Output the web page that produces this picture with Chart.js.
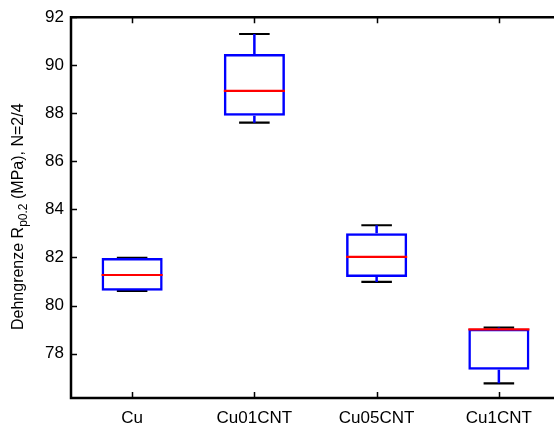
<!DOCTYPE html>
<html lang="de">
<head>
<meta charset="UTF-8">
<title>Dehngrenze Boxplot</title>
<script src="https://cdn.jsdelivr.net/npm/chart.js"></script>
<style>
  html, body { margin: 0; padding: 0; background: #fff; overflow: hidden; }
  .chart-container { position: relative; width: 560px; height: 427px; }
</style>
</head>
<body>
<div class="chart-container"><canvas id="boxChart"></canvas></div>
<script>
// Werte
const categories = ["Cu", "Cu01CNT", "Cu05CNT", "Cu1CNT"];
const whiskerLow = [80.61, 87.61, 80.98, 76.76];
const q1Values = [80.61, 87.90, 81.19, 77.33];
const medianValues = [81.27, 88.93, 82.02, 79.01];
const q3Values = [81.98, 90.47, 83.01, 79.03];
const whiskerHigh = [81.98, 91.30, 83.34, 79.08];
const yTicks = [78, 80, 82, 84, 86, 88, 90, 92];
const yTitle = ["Dehngrenze R", "p0.2", " (MPa), N=2/4"];

const FONT = "'Liberation Sans', Arial, sans-serif";

// Liniensegmente pro Kategorie, getrennt durch null
function segments(fn) {
    const pts = [];
    categories.forEach((c, i) => {
        fn(i + 1, i).forEach(seg => pts.push(seg[0], seg[1], { x: i + 1, y: null }));
    });
    return pts;
}

const medianPts = segments((x, i) => [[{ x: x - 0.25, y: medianValues[i] }, { x: x + 0.25, y: medianValues[i] }]]);
const whiskerPts = segments((x, i) => [
    [{ x: x, y: q3Values[i] }, { x: x, y: whiskerHigh[i] }],
    [{ x: x, y: whiskerLow[i] }, { x: x, y: q1Values[i] }]
]);
const capPts = segments((x, i) => [
    [{ x: x - 0.125, y: whiskerHigh[i] }, { x: x + 0.125, y: whiskerHigh[i] }],
    [{ x: x - 0.125, y: whiskerLow[i] }, { x: x + 0.125, y: whiskerLow[i] }]
]);
const boxData = categories.map((c, i) => ({ x: i + 1, y: [q1Values[i], q3Values[i]] }));

// Achsenrahmen mit Ticks nach innen (MATLAB-Stil)
const framePlugin = {
    id: 'frame',
    afterDraw(chart) {
        const { ctx, chartArea: a, scales } = chart;
        ctx.save();
        ctx.strokeStyle = '#000';
        ctx.lineWidth = 1.5;
        ctx.beginPath();
        yTicks.forEach(v => {
            const y = Math.round(scales.y.getPixelForValue(v)) + 0.5;
            ctx.moveTo(a.left, y); ctx.lineTo(a.left + 6, y);
        });
        categories.forEach((c, i) => {
            const x = Math.round(scales.x.getPixelForValue(i + 1)) + 0.5;
            ctx.moveTo(x, a.bottom); ctx.lineTo(x, a.bottom - 6);
            ctx.moveTo(x, a.top); ctx.lineTo(x, a.top + 6);
        });
        ctx.stroke();
        ctx.lineWidth = 2.5;
        ctx.beginPath();
        ctx.moveTo(a.right, a.top);
        ctx.lineTo(a.left, a.top);
        ctx.lineTo(a.left, a.bottom);
        ctx.lineTo(a.right, a.bottom);
        ctx.stroke();

        // y-Achsentitel mit Index p0.2
        ctx.fillStyle = '#000';
        ctx.textBaseline = 'alphabetic';
        ctx.translate(23, a.bottom - 68);
        ctx.rotate(-Math.PI / 2);
        ctx.font = '16px ' + FONT;
        ctx.fillText(yTitle[0], 0, 0);
        let w = ctx.measureText(yTitle[0]).width;
        ctx.font = '12px ' + FONT;
        ctx.fillText(yTitle[1], w, 4);
        w += ctx.measureText(yTitle[1]).width;
        ctx.font = '16px ' + FONT;
        ctx.fillText(yTitle[2], w, 0);
        ctx.restore();
    }
};

new Chart(document.getElementById('boxChart'), {
    type: 'bar',
    data: {
        datasets: [
            { type: 'line', data: medianPts, borderColor: '#ff0000', borderWidth: 2.2, pointRadius: 0, spanGaps: false, order: 1 },
            { type: 'bar', data: boxData, borderColor: '#0000ff', backgroundColor: 'rgba(0,0,0,0)', borderWidth: 2.5,
              borderSkipped: false, barPercentage: 0.5, categoryPercentage: 1, order: 2 },
            { type: 'line', data: whiskerPts, borderColor: '#0000ff', borderWidth: 2.5, pointRadius: 0, spanGaps: false, order: 3 },
            { type: 'line', data: capPts, borderColor: '#000000', borderWidth: 2.2, pointRadius: 0, spanGaps: false, order: 4 }
        ]
    },
    options: {
        responsive: true,
        maintainAspectRatio: false,
        animation: false,
        layout: { padding: { top: 14, left: 0, right: 0, bottom: 0 } },
        plugins: { legend: { display: false }, tooltip: { enabled: false } },
        scales: {
            x: {
                type: 'linear', min: 0.5, max: 4.5, offset: false,
                afterBuildTicks: s => { s.ticks = categories.map((c, i) => ({ value: i + 1 })); },
                afterFit: s => { s.height = 29; },
                ticks: {
                    callback: v => categories[Math.round(v) - 1],
                    font: { family: FONT, size: 17 }, color: '#000', padding: 10,
                    maxRotation: 0, autoSkip: false
                },
                grid: { display: false, drawTicks: false },
                border: { display: false }
            },
            y: {
                type: 'linear', min: 76.15, max: 92,
                afterBuildTicks: s => { s.ticks = yTicks.map(v => ({ value: v })); },
                afterFit: s => { s.width = 71; },
                ticks: { font: { family: FONT, size: 17 }, color: '#000', padding: 7 },
                grid: { display: false, drawTicks: false },
                border: { display: false }
            }
        }
    },
    plugins: [framePlugin]
});
</script>
</body>
</html>
